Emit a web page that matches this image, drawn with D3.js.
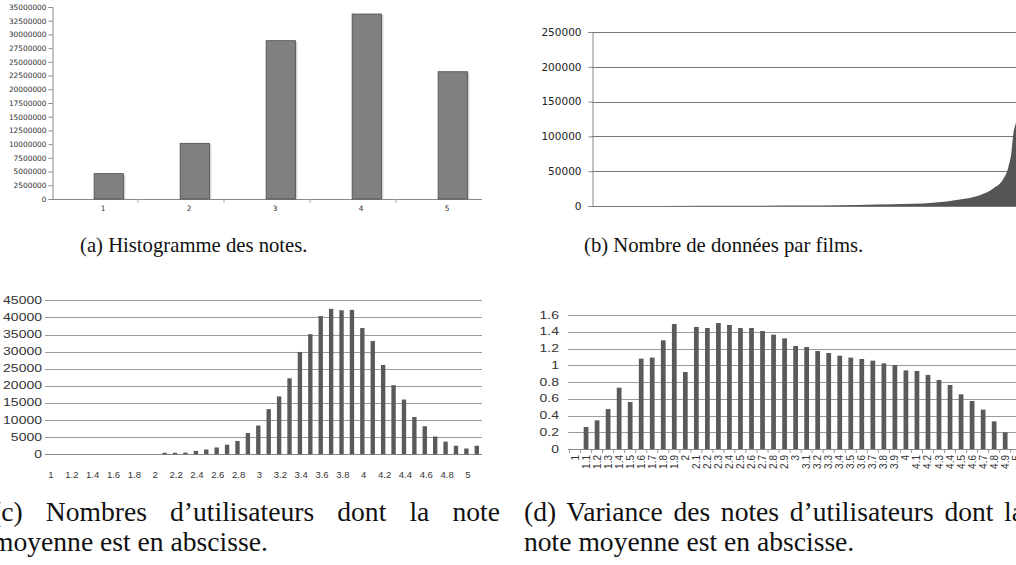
<!DOCTYPE html>
<html><head><meta charset="utf-8">
<script src="https://cdn.jsdelivr.net/npm/d3@7"></script>
<style>body{margin:0;background:#fff} svg{display:block}</style>
</head><body><svg id="chart" width="1016" height="565"></svg>
<script>
// ---------- (a) Histogramme des notes ----------
const notesCats = ["1", "2", "3", "4", "5"];
const notesCounts = [4620000, 10150000, 28860000, 33720000, 23200000];
const notesTicks = d3.range(0, 35000001, 2500000);

// ---------- (b) Nombre de données par films ----------
const filmRank = [0, 3000, 6000, 9000, 9450, 11000, 12450, 14100, 15200, 16030, 16580, 17000, 17200, 17340, 17410, 17480, 17520, 17600, 17700, 17770];
const filmCount = [10, 120, 300, 600, 850, 1500, 2400, 4700, 9500, 15600, 25000, 39000, 55000, 79000, 103000, 115000, 120000, 150000, 190000, 232000];
const filmTicks = [0, 50000, 100000, 150000, 200000, 250000];

// ---------- (c) Nombres d'utilisateurs par note moyenne ----------
const meanCats = d3.range(42).map(i => (1 + i / 10).toFixed(1));
const meanUsers = [0,0,0,0,0,0,0,0,0,0,0,
  450, 450, 500, 1000, 1400, 2000, 2800, 3900, 6200, 8400,
  13200, 16900, 22200, 29900, 35100, 40400, 42500, 42100, 42200, 36900,
  33100, 26100, 20200, 16000, 10900, 8200, 5200, 3700, 2500, 1700, 2500];
const meanLabels = ["1","1.2","1.4","1.6","1.8","2","2.2","2.4","2.6","2.8","3","3.2","3.4","3.6","3.8","4","4.2","4.4","4.6","4.8","5"];
const meanTicks = [0, 5000, 10000, 15000, 20000, 25000, 30000, 35000, 40000, 45000];

// ---------- (d) Variance des notes ----------
const varCats = ["1","1.1","1.2","1.3","1.4","1.5","1.6","1.7","1.8","1.9","2","2.1","2.2","2.3","2.4","2.5","2.6","2.7","2.8","2.9","3","3.1","3.2","3.3","3.4","3.5","3.6","3.7","3.8","3.9","4","4.1","4.2","4.3","4.4","4.5","4.6","4.7","4.8","4.9","5"];
const varValues = [0, 0.263, 0.342, 0.478, 0.732, 0.561, 1.079, 1.091, 1.298, 1.493,
  0.919, 1.457, 1.445, 1.504, 1.481, 1.445, 1.445, 1.409, 1.365, 1.321,
  1.230, 1.218, 1.170, 1.146, 1.114, 1.091, 1.075, 1.055, 1.023, 1.003,
  0.939, 0.931, 0.884, 0.824, 0.764, 0.653, 0.573, 0.470, 0.330, 0.199, 0];
const varTicks = [0, 0.2, 0.4, 0.6, 0.8, 1, 1.2, 1.4, 1.6];

// ---------- captions ----------
const captionA = "(a) Histogramme des notes.";
const captionB = "(b) Nombre de données par films.";
const captionC = ["(c) Nombres d’utilisateurs dont la note", "moyenne est en abscisse."];
const captionD = ["(d) Variance des notes d’utilisateurs dont la", "note moyenne est en abscisse."];

const svg = d3.select("#chart");
svg.append("rect").attr("width", 1016).attr("height", 565).attr("fill", "#fff");

// ===== Panel (a) =====
{
  const g = svg.append("g");
  const x = d3.scaleBand().domain(notesCats).range([52, 482]);
  const y = d3.scaleLinear().domain([0, 35000000]).range([199, 7]);
  const bw = x.bandwidth();
  const ya = g.append("g").attr("transform", "translate(52.5,0)")
    .call(d3.axisLeft(y).tickValues(notesTicks).tickSize(4).tickPadding(2).tickFormat(d3.format("d")));
  ya.selectAll("text").attr("font-family", "DejaVu Sans").attr("font-size", 7.4).attr("fill", "#333");
  ya.selectAll("line").attr("stroke", "#888");
  ya.select(".domain").attr("stroke", "#888");
  g.append("line").attr("x1", 52).attr("x2", 482).attr("y1", 199.5).attr("y2", 199.5).attr("stroke", "#888");
  g.selectAll(".xt").data(notesCats.slice(1)).join("line")
    .attr("x1", d => x(d)).attr("x2", d => x(d)).attr("y1", 199).attr("y2", 203).attr("stroke", "#aaa");
  g.selectAll(".xl").data(notesCats).join("text")
    .attr("x", d => x(d) + bw / 2 + 8).attr("y", 211)
    .attr("text-anchor", "middle").attr("font-family", "DejaVu Sans").attr("font-size", 7.4).attr("fill", "#333")
    .text(d => d);
  g.selectAll(".sh").data(notesCats).join("rect")
    .attr("x", d => x(d) + bw * 0.49 + bw * 0.34).attr("width", 2)
    .attr("y", (d, i) => y(notesCounts[i]) + 1).attr("height", (d, i) => 199 - y(notesCounts[i]) - 1)
    .attr("fill", "#d4d4d4");
  g.selectAll(".bar").data(notesCats).join("rect")
    .attr("x", d => x(d) + bw * 0.49).attr("width", bw * 0.34)
    .attr("y", (d, i) => y(notesCounts[i])).attr("height", (d, i) => 199 - y(notesCounts[i]))
    .attr("fill", "#808080").attr("stroke", "#4a4a4a").attr("stroke-width", 0.8);
}

// ===== Panel (b) =====
{
  const g = svg.append("g");
  const x = d3.scaleLinear().domain([0, 17770]).range([592, 1022]);
  const y = d3.scaleLinear().domain([0, 250000]).range([206, 32]);
  svg.append("clipPath").attr("id", "clipB").append("rect").attr("x", 592).attr("y", 0).attr("width", 424).attr("height", 210);
  g.selectAll(".grid").data(filmTicks).join("line")
    .attr("x1", 592).attr("x2", 1016).attr("y1", d => Math.round(y(d)) + 0.5).attr("y2", d => Math.round(y(d)) + 0.5)
    .attr("stroke", "#777").attr("stroke-width", 1);
  const area = d3.area().x((d, i) => x(filmRank[i])).y0(y(0)).y1(d => y(d)).curve(d3.curveMonotoneX);
  g.append("path").datum(filmCount).attr("d", area).attr("fill", "#555").attr("clip-path", "url(#clipB)");
  const ya = g.append("g").attr("transform", "translate(592.5,0)")
    .call(d3.axisLeft(y).tickValues(filmTicks).tickSize(4).tickPadding(7).tickFormat(d3.format("d")));
  ya.selectAll("text").attr("font-family", "DejaVu Sans").attr("font-size", 10.5).attr("fill", "#222");
  ya.selectAll("line").attr("stroke", "#888");
  ya.select(".domain").attr("stroke", "#888");
}

// ===== Panel (c) =====
{
  const g = svg.append("g");
  const x = d3.scaleBand().domain(meanCats).range([45, 482]);
  const y = d3.scaleLinear().domain([0, 45000]).range([454.3, 300.3]);
  const bw = x.bandwidth();
  g.selectAll(".grid").data(meanTicks).join("line")
    .attr("x1", 45).attr("x2", 482).attr("y1", d => Math.round(y(d)) + 0.5).attr("y2", d => Math.round(y(d)) + 0.5)
    .attr("stroke", d => d === 0 ? "#888" : "#9a9a9a");
  g.selectAll(".yl").data(meanTicks).join("text")
    .attr("transform", d => `translate(42,${y(d)}) scale(1.4,1)`)
    .attr("dy", "0.35em").attr("text-anchor", "end")
    .attr("font-family", "Liberation Sans").attr("font-size", 10).attr("fill", "#333").text(d => d);
  g.selectAll(".bar").data(meanCats).join("rect")
    .attr("x", d => x(d) + bw * 0.29).attr("width", bw * 0.42)
    .attr("y", (d, i) => y(meanUsers[i])).attr("height", (d, i) => y(0) - y(meanUsers[i]))
    .attr("fill", "#5a5a5a");
  const xl = d3.scalePoint().domain(meanLabels).range([51, 468]);
  g.selectAll(".xl").data(meanLabels).join("text")
    .attr("x", d => xl(d)).attr("y", 475).attr("dy", "0.35em").attr("text-anchor", "middle")
    .attr("font-family", "Liberation Sans").attr("font-size", 9.5).attr("fill", "#333").text(d => d);
}

// ===== Panel (d) =====
{
  const g = svg.append("g");
  const bwStep = 11.03;
  const x = d3.scaleBand().domain(varCats).range([569.5, 569.5 + bwStep * varCats.length]);
  const y = d3.scaleLinear().domain([0, 1.6]).range([449, 315]);
  const bw = x.bandwidth();
  g.selectAll(".grid").data(varTicks).join("line")
    .attr("x1", 568).attr("x2", 1016).attr("y1", d => Math.round(y(d)) + 0.5).attr("y2", d => Math.round(y(d)) + 0.5)
    .attr("stroke", d => d === 0 ? "#888" : "#9a9a9a");
  g.selectAll(".xt").data(varCats).join("line")
    .attr("x1", d => x(d)).attr("x2", d => x(d)).attr("y1", 449).attr("y2", 453).attr("stroke", "#999");
  g.selectAll(".yl").data(varTicks).join("text")
    .attr("transform", d => `translate(559,${y(d)}) scale(1.4,1)`)
    .attr("dy", "0.35em").attr("text-anchor", "end")
    .attr("font-family", "Liberation Sans").attr("font-size", 10).attr("fill", "#333").text(d => d3.format("~g")(d));
  g.selectAll(".bar").data(varCats).join("rect")
    .attr("x", d => x(d) + bw * 0.285).attr("width", bw * 0.43)
    .attr("y", (d, i) => y(varValues[i])).attr("height", (d, i) => y(0) - y(varValues[i]))
    .attr("fill", "#5a5a5a");
  g.selectAll(".xl").data(varCats).join("text")
    .attr("transform", d => `translate(${x(d) + bw / 2},455) rotate(-90)`)
    .attr("dy", "0.35em").attr("text-anchor", "end")
    .attr("font-family", "Liberation Sans").attr("font-size", 10).attr("fill", "#333").text(d => d);
}

// ===== Captions =====
{
  const cap = (txt, x, yy, fs) => svg.append("text").attr("x", x).attr("y", yy)
    .attr("font-family", "Liberation Serif").attr("font-size", fs).attr("fill", "#111").text(txt);
  const justify = (sel, txt, width) => {
    const n = sel.node().getComputedTextLength();
    const sp = txt.split(" ").length - 1;
    sel.attr("word-spacing", Math.max(0, (width - n) / sp));
  };
  cap(captionA, 80, 252, 20.7);
  cap(captionB, 584, 252, 20.7);
  const c1 = cap(captionC[0], -8, 521, 27.6);
  justify(c1, captionC[0], 508);
  cap(captionC[1], -8, 551, 27.6);
  const d1 = cap(captionD[0], 524, 521, 27.6);
  justify(d1, captionD[0], 500);
  cap(captionD[1], 524, 551, 27.6);
}
</script></body></html>
